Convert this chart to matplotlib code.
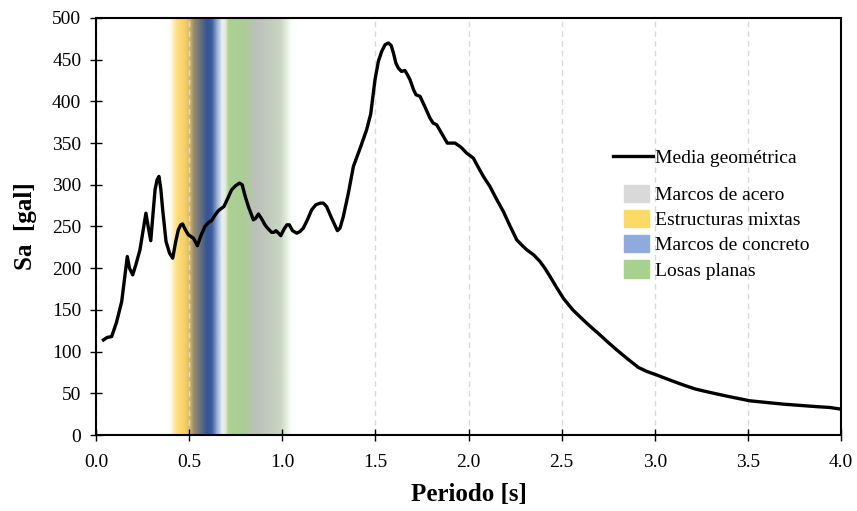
import numpy as np
import matplotlib.pyplot as plt
from matplotlib.colors import LinearSegmentedColormap
from matplotlib.lines import Line2D
from matplotlib.patches import Patch

plt.rcParams['font.family'] = ['Liberation Serif', 'DejaVu Serif']

# Espectro de respuesta (media geometrica)
periodo = [0.04, 0.06, 0.084, 0.11, 0.138, 0.155, 0.168, 0.18, 0.197, 0.215, 0.236,
           0.255, 0.268, 0.28, 0.294, 0.305, 0.317, 0.328, 0.338, 0.348, 0.358, 0.376,
           0.395, 0.412, 0.428, 0.442, 0.455, 0.465, 0.48, 0.496, 0.51, 0.523, 0.544,
           0.565, 0.585, 0.605, 0.621, 0.64, 0.657, 0.687, 0.71, 0.728, 0.75, 0.77,
           0.785, 0.8, 0.818, 0.845, 0.858, 0.872, 0.89, 0.907, 0.925, 0.943, 0.955,
           0.966, 0.98, 0.992, 1.01, 1.025, 1.038, 1.055, 1.078, 1.095, 1.113, 1.135,
           1.158, 1.18, 1.203, 1.22, 1.238, 1.265, 1.296, 1.31, 1.328, 1.355, 1.382,
           1.42, 1.453, 1.475, 1.498, 1.516, 1.534, 1.552, 1.57, 1.585, 1.597, 1.61,
           1.623, 1.64, 1.659, 1.672, 1.686, 1.705, 1.718, 1.74, 1.765, 1.793, 1.81,
           1.829, 1.86, 1.886, 1.905, 1.928, 1.96, 1.99, 2.026, 2.05, 2.08, 2.115,
           2.15, 2.187, 2.22, 2.259, 2.285, 2.313, 2.35, 2.384, 2.41, 2.438, 2.47,
           2.509, 2.56, 2.616, 2.66, 2.706, 2.75, 2.796, 2.85, 2.912, 2.96, 3.01,
           3.08, 3.153, 3.22, 3.297, 3.4, 3.511, 3.6, 3.69, 3.78, 3.87, 3.94, 4.0]
sa = [114, 117, 118, 135, 160, 190, 214, 200, 192, 205, 222,
      248, 266, 250, 233, 262, 294, 306, 310, 295, 270, 232,
      218, 212, 232, 246, 252, 253, 246, 240, 238, 236, 227,
      240, 250, 255, 257, 264, 269, 274, 285, 294, 299, 302,
      300, 287, 274, 258, 260, 265, 259, 252, 247, 243, 243,
      245, 242, 239, 247, 252, 252, 245, 242, 244, 248, 258,
      270, 276, 278, 278, 274, 260, 245, 248, 262, 290, 322,
      345, 366, 385, 426, 448, 460, 468, 470, 467, 458, 446,
      440, 436, 437, 432, 426, 414, 408, 406, 394, 380, 374,
      372, 360, 350, 350, 350, 345, 338, 332, 322, 310, 298,
      283, 268, 252, 234, 228, 222, 216, 208, 200, 190, 178,
      164, 150, 138, 129, 120, 111, 102, 92, 81, 76, 72,
      66, 60, 55, 51, 46, 41, 39, 37, 35.5, 34, 33, 31]

# Intervalos de periodo por sistema estructural: (inicio, color)
banda_t = [0.38, 0.397, 0.433, 0.478, 0.501, 0.523, 0.558, 0.594, 0.621, 0.648,
           0.675, 0.692, 0.71, 0.791, 0.863, 0.988, 1.024, 1.05]
banda_rgb = [(255, 255, 255), (255, 250, 235), (255, 222, 120), (245, 205, 105),
             (210, 185, 110), (150, 140, 115), (105, 112, 130), (50, 85, 150),
             (62, 95, 155), (150, 172, 212), (232, 238, 242), (225, 238, 215),
             (172, 210, 146), (170, 205, 150), (190, 192, 188), (198, 214, 192),
             (228, 240, 222), (255, 255, 255)]

leyenda_sistemas = ['Marcos de acero', 'Estructuras mixtas', 'Marcos de concreto', 'Losas planas']
leyenda_colores = ['#D9D9D9', '#FFD966', '#8FAADC', '#A9D18E']

fig = plt.figure(figsize=(8.57, 5.11), dpi=100)
ax = fig.add_axes([96 / 857, 76 / 511, 745 / 857, 417 / 511])

# franjas de color con degradado
t0, t1 = banda_t[0], banda_t[-1]
stops = [((t - t0) / (t1 - t0), tuple(c / 255 for c in rgb)) for t, rgb in zip(banda_t, banda_rgb)]
cmap = LinearSegmentedColormap.from_list('bandas', stops, N=512)
grad = np.linspace(0, 1, 400).reshape(1, -1)
ax.imshow(grad, cmap=cmap, extent=[t0, t1, 0, 500], aspect='auto', zorder=0,
          interpolation='bilinear')

ax.plot(periodo, sa, color='black', lw=2.4, solid_joinstyle='round', zorder=3)

ax.set_xlim(0, 4)
ax.set_ylim(0, 500)
ax.set_xticks(np.arange(0, 4.01, 0.5))
ax.set_xticklabels([f'{v:.1f}' for v in np.arange(0, 4.01, 0.5)])
ax.set_yticks(np.arange(0, 501, 50))
ax.grid(axis='x', color='#D9D9D9', ls=(0, (4, 3)), lw=1)
ax.tick_params(direction='inout', length=8, width=1, labelsize=14, colors='black')
ax.tick_params(axis='x', pad=9.5)
ax.tick_params(axis='y', pad=6.6)
for s in ax.spines.values():
    s.set_linewidth(1.5)

ax.set_xlabel('Periodo [s]', fontsize=18, fontweight='bold', labelpad=9)
ax.set_ylabel('Sa  [gal]', fontsize=18, fontweight='bold', labelpad=11)

leg1 = ax.legend([Line2D([], [], color='black', lw=2.4)], ['Media geométrica'],
                 loc='upper left', bbox_to_anchor=(0.683, 0.703), frameon=False,
                 fontsize=14, handlelength=2.1, handletextpad=0.1, borderaxespad=0)
ax.add_artist(leg1)
ax.legend([Patch(color=c) for c in leyenda_colores], leyenda_sistemas,
          loc='upper left', bbox_to_anchor=(0.698, 0.619), frameon=False,
          fontsize=14, handlelength=1.3, handleheight=1.0, handletextpad=0.3,
          labelspacing=0.3, borderaxespad=0)

fig.savefig('out.png', dpi=100)
